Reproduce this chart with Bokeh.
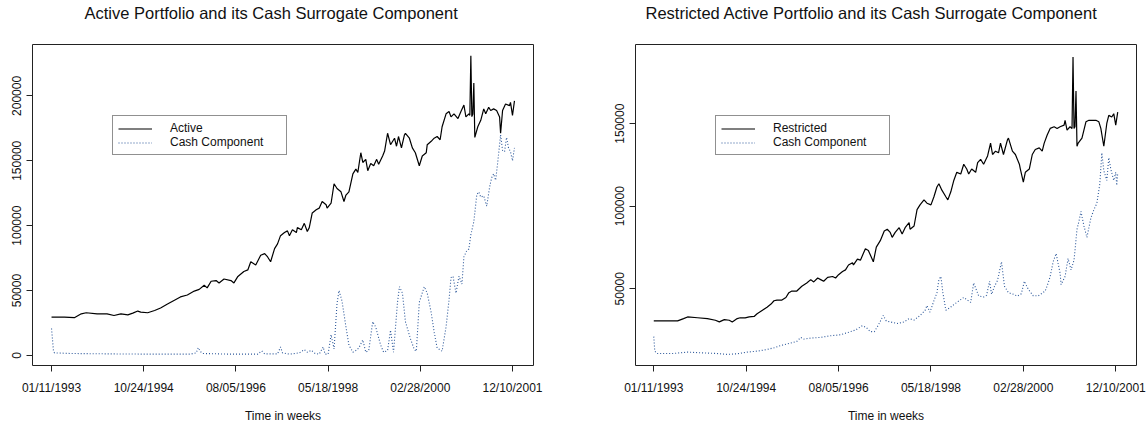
import numpy as np
from bokeh.plotting import figure
from bokeh.models import FixedTicker, Range1d, Legend, LegendItem, Title
from bokeh.layouts import row
from bokeh.embed import file_html
from bokeh.resources import INLINE

# ---------------- data (values in thousands) ----------------
DATE_TICKS = [0, 93, 186, 279, 372, 465]
DATE_LABELS = ["01/11/1993", "10/24/1994", "08/05/1996", "05/18/1998", "02/28/2000", "12/10/2001"]

# Left panel: Active portfolio (week index, value in thousands)
active_week = [0, 13, 23, 30, 35, 46, 56, 63, 70, 77,
               82, 87, 90, 97, 104, 110, 117, 124, 130, 137,
               144, 149, 154, 157, 161, 166, 169, 174, 181, 184,
               188, 194, 198, 201, 206, 211, 215, 218, 221, 225,
               228, 231, 235, 238, 240, 243, 247, 248, 252, 255,
               258, 260, 263, 267, 270, 273, 277, 278, 282, 285,
               288, 292, 295, 297, 300, 304, 307, 309, 312, 314,
               317, 319, 322, 325, 328, 330, 334, 336, 339, 342,
               346, 348, 350, 353, 356, 357, 361, 364, 367, 371,
               374, 378, 379, 383, 386, 389, 392, 394, 398, 401,
               403, 406, 410, 413, 416, 418, 421, 422, 423, 424,
               425, 426, 427, 430, 433, 436, 438, 441, 443, 446,
               449, 452, 453, 455, 458, 462, 463, 465, 467]
active_k = [29.6, 29.6, 29.1, 32.1, 32.9, 32.1, 32.1, 30.8, 32.1, 31.3,
            32.6, 34.2, 33.4, 32.9, 34.6, 36.6, 39.6, 42.6, 45.1, 46.6,
            49.6, 50.9, 54.1, 52.1, 57.2, 57.7, 55.9, 58.9, 57.7, 55.9,
            60.9, 64.7, 65.9, 72.2, 69.7, 77.2, 78.5, 75.9, 72.2, 82.3,
            86.0, 92.3, 94.7, 96.0, 92.3, 96.8, 94.7, 98.5, 96.8, 101.8,
            95.5, 98.5, 109.8, 112.3, 113.5, 118.6, 116.1, 113.5, 117.3, 132.3,
            128.6, 126.1, 118.6, 123.6, 126.1, 139.9, 143.6, 141.1, 156.2, 148.7,
            151.1, 142.4, 147.9, 146.2, 151.1, 147.4, 153.7, 157.5, 171.2, 162.4,
            167.4, 161.2, 168.7, 159.9, 169.9, 171.2, 167.4, 159.9, 156.2, 146.2,
            153.7, 156.2, 162.4, 165.0, 167.4, 168.7, 166.2, 176.2, 186.2, 188.0,
            183.8, 186.2, 182.5, 188.0, 193.0, 183.8, 186.2, 185.0, 231.0, 184.0,
            186.0, 210.0, 168.0, 176.2, 181.2, 190.0, 186.2, 191.3, 188.7, 190.0,
            188.7, 183.8, 171.2, 188.7, 193.8, 192.5, 195.0, 185.0, 196.2]

# Left panel: cash component
active_cash_week = [0, 1, 2, 3, 20, 60, 100, 140, 146, 148,
                    150, 153, 180, 208, 212, 215, 228, 231, 233, 240,
                    250, 255, 258, 262, 266, 270, 274, 276, 279, 282,
                    285, 288, 290, 293, 297, 300, 304, 307, 310, 314,
                    317, 320, 324, 327, 332, 335, 339, 342, 345, 349,
                    351, 354, 357, 362, 366, 368, 371, 376, 379, 383,
                    386, 389, 394, 398, 401, 403, 405, 408, 411, 414,
                    416, 419, 421, 423, 426, 429, 431, 433, 436, 439,
                    442, 444, 446, 448, 450, 453, 455, 457, 459, 461,
                    463, 465, 467]
active_cash_k = [20.8, 12.0, 3.0, 2.0, 1.5, 1.2, 1.0, 1.0, 2.0, 6.0,
                 3.0, 1.5, 1.0, 1.0, 3.5, 1.2, 1.2, 6.5, 2.0, 1.0,
                 2.0, 4.5, 2.5, 4.0, 1.5, 1.0, 6.5, 1.0, 1.0, 16.0,
                 5.0, 40.0, 50.0, 42.0, 22.0, 8.0, 2.5, 3.8, 5.8, 12.0,
                 2.5, 3.8, 26.0, 22.0, 8.0, 2.5, 3.8, 19.5, 2.5, 41.0,
                 53.0, 48.0, 26.0, 13.0, 4.5, 3.3, 41.0, 53.0, 48.0, 33.0,
                 18.0, 5.8, 3.3, 22.0, 43.0, 60.0, 61.0, 48.0, 61.0, 55.0,
                 76.0, 81.0, 82.0, 93.0, 103.0, 124.0, 126.0, 122.0, 123.0, 115.0,
                 130.0, 137.0, 140.0, 135.0, 148.0, 170.0, 158.0, 157.0, 168.0, 160.0,
                 157.0, 150.0, 160.0]

# Right panel: Restricted portfolio
restricted_week = [0, 13, 24, 30, 34, 44, 54, 62, 66, 71,
                   76, 79, 84, 87, 92, 96, 101, 104, 109, 114,
                   118, 121, 124, 129, 133, 136, 139, 144, 149, 154,
                   158, 161, 165, 168, 171, 175, 180, 183, 186, 190,
                   193, 196, 200, 201, 205, 208, 213, 216, 221, 224,
                   228, 232, 235, 238, 240, 243, 247, 250, 253, 257,
                   258, 262, 265, 268, 272, 275, 279, 282, 285, 287,
                   290, 294, 296, 299, 302, 305, 309, 312, 315, 317,
                   320, 324, 326, 329, 332, 336, 339, 341, 344, 347,
                   349, 352, 356, 357, 361, 364, 368, 369, 372, 374,
                   378, 379, 381, 384, 388, 391, 393, 396, 399, 403,
                   406, 409, 413, 414, 416, 419, 421, 422, 423, 424,
                   425, 426, 427, 431, 435, 438, 441, 445, 448, 450,
                   453, 456, 458, 461, 463, 465, 467]
restricted_k = [30.5, 30.5, 30.5, 31.9, 32.9, 32.4, 31.9, 30.9, 29.9, 31.3,
                30.9, 29.9, 31.9, 32.4, 32.3, 32.9, 33.2, 34.8, 36.8, 38.8,
                40.7, 42.7, 43.1, 43.1, 44.7, 47.6, 48.6, 48.6, 51.5, 53.5,
                55.5, 54.1, 56.5, 55.5, 54.5, 56.9, 57.4, 56.5, 58.5, 60.4,
                61.4, 64.4, 65.7, 64.4, 67.9, 67.3, 74.2, 73.2, 66.3, 75.2,
                79.1, 85.0, 86.0, 84.1, 81.1, 84.1, 87.0, 83.1, 87.0, 90.0,
                86.0, 88.0, 97.9, 100.8, 103.8, 101.8, 100.8, 105.7, 111.6, 113.6,
                109.7, 105.7, 103.8, 108.7, 115.6, 120.5, 119.5, 125.4, 122.5, 119.5,
                122.5, 120.5, 126.4, 128.4, 125.4, 130.4, 138.2, 131.3, 133.3, 132.3,
                138.2, 131.3, 140.2, 141.2, 133.3, 131.3, 125.4, 122.5, 114.6, 120.5,
                122.5, 125.4, 131.3, 134.3, 135.3, 133.3, 138.2, 143.1, 147.1, 148.1,
                147.1, 148.1, 149.1, 152.0, 146.1, 148.1, 147.0, 190.4, 147.0, 148.1,
                169.7, 136.3, 138.0, 141.2, 151.1, 152.0, 152.0, 152.0, 151.1, 147.1,
                136.3, 150.1, 155.0, 154.0, 156.0, 149.1, 157.0]

# Right panel: cash component
restricted_cash_week = [0, 1, 3, 20, 34, 47, 62, 74, 84, 94,
                        104, 114, 121, 129, 138, 144, 148, 151, 158, 168,
                        178, 188, 196, 203, 210, 214, 218, 222, 226, 231,
                        234, 238, 245, 252, 257, 262, 268, 273, 275, 278,
                        282, 285, 287, 289, 291, 294, 298, 305, 312, 319,
                        322, 327, 332, 335, 338, 340, 343, 346, 350, 353,
                        357, 362, 366, 370, 373, 377, 382, 387, 394, 397,
                        399, 402, 405, 409, 410, 414, 417, 420, 423, 424,
                        426, 428, 430, 433, 436, 440, 443, 446, 449, 451,
                        453, 456, 458, 460, 463, 465, 466, 467]
restricted_cash_k = [21.0, 12.2, 10.8, 10.8, 11.6, 11.2, 10.8, 10.2, 10.6, 11.6,
                     12.2, 13.2, 14.2, 15.8, 17.1, 18.1, 20.5, 19.5, 20.1, 20.5,
                     21.5, 22.1, 23.6, 25.0, 27.6, 26.5, 24.0, 24.0, 27.9, 33.8,
                     30.5, 29.9, 28.9, 29.9, 31.9, 31.0, 33.8, 36.8, 39.8, 35.8,
                     42.7, 47.6, 55.5, 57.4, 47.6, 37.0, 38.5, 41.7, 44.7, 41.7,
                     53.5, 45.7, 45.0, 46.0, 54.5, 46.6, 51.5, 55.0, 66.3, 51.5,
                     47.6, 46.6, 45.5, 47.0, 54.5, 49.6, 45.7, 45.7, 48.6, 53.5,
                     57.4, 66.3, 71.3, 59.4, 52.5, 57.4, 68.3, 61.4, 67.3, 73.2,
                     86.0, 90.9, 96.8, 88.0, 81.1, 92.9, 97.8, 101.8, 113.6, 132.3,
                     121.5, 115.6, 129.4, 122.5, 115.6, 120.5, 112.6, 120.0]

LEFT_YTICKS = [0, 50000, 100000, 150000, 200000]
RIGHT_YTICKS = [50000, 100000, 150000]

FONT = "Liberation Sans"
CASH_COLOR = "#2a5699"


def make_panel(width, border_left, border_right, title, title_offset, xr, yr, yticks,
               w_main, v_main, main_name, w_cash, v_cash):
    p = figure(width=width, height=425, x_range=Range1d(*xr), y_range=Range1d(*yr),
               output_backend="svg", toolbar_location=None,
               min_border_left=border_left, min_border_right=border_right,
               min_border_top=44, min_border_bottom=52)
    p.background_fill_color = "white"
    p.border_fill_color = "white"
    p.outline_line_color = "#222222"
    p.outline_line_width = 1
    p.xgrid.visible = False
    p.ygrid.visible = False

    p.xaxis.ticker = FixedTicker(ticks=DATE_TICKS)
    p.xaxis.major_label_overrides = {t: l for t, l in zip(DATE_TICKS, DATE_LABELS)}
    p.yaxis.ticker = FixedTicker(ticks=yticks)
    p.yaxis.major_label_overrides = {t: str(t) for t in yticks}
    p.yaxis.major_label_orientation = "vertical"
    for ax in (p.xaxis, p.yaxis):
        ax.axis_line_color = None
        ax.minor_tick_line_color = None
        ax.major_tick_in = 0
        ax.major_tick_out = 6
        ax.major_tick_line_color = "#222222"
        ax.major_label_text_font = FONT
        ax.major_label_text_font_size = "12px"
        ax.major_label_text_color = "#111111"
        ax.major_label_standoff = 5
    p.xaxis.major_label_standoff = 9
    p.xaxis.axis_label = "Time in weeks"
    p.xaxis.axis_label_text_font = FONT
    p.xaxis.axis_label_text_font_size = "12px"
    p.xaxis.axis_label_text_font_style = "normal"
    p.xaxis.axis_label_text_color = "#111111"
    p.xaxis.axis_label_standoff = 11

    r_main = p.line(w_main, np.array(v_main) * 1000, line_color="black", line_width=1.2)
    r_cash = p.line(w_cash, np.array(v_cash) * 1000, line_color=CASH_COLOR,
                    line_width=1.1, line_dash="1 2")

    legend = Legend(items=[LegendItem(label=main_name, renderers=[r_main]),
                           LegendItem(label="Cash Component", renderers=[r_cash])],
                    location=(80, 210), orientation="vertical",
                    border_line_color="#222222", border_line_width=1,
                    background_fill_color="white", background_fill_alpha=1,
                    padding=5, spacing=0, margin=0,
                    glyph_width=34, glyph_height=13, label_height=13,
                    label_width=111, label_standoff=18,
                    label_text_font=FONT, label_text_font_size="12px",
                    label_text_color="#111111")
    p.add_layout(legend)

    # spacer (nearest to the frame) then the visible title above it
    p.add_layout(Title(text="\u00a0", text_font=FONT, text_font_size="10px",
                       standoff=10, align="left"), "above")
    p.add_layout(Title(text=title, text_font=FONT, text_font_size="16.5px",
                       text_font_style="normal", text_color="#111111",
                       align="left", offset=title_offset, standoff=0), "above")
    return p


p1 = make_panel(600, 32, 67, "Active Portfolio and its Cash Surrogate Component", 52,
                (-19.2, 486.2), (-7740, 239600), LEFT_YTICKS,
                active_week, active_k, "Active", active_cash_week, active_cash_k)
p2 = make_panel(548, 35, 12, "Restricted Active Portfolio and its Cash Surrogate Component", 10,
                (-18.4, 485.9), (3490, 197930), RIGHT_YTICKS,
                restricted_week, restricted_k, "Restricted", restricted_cash_week, restricted_cash_k)

layout = row(p1, p2)
open("out.html", "w").write(file_html(layout, INLINE))
